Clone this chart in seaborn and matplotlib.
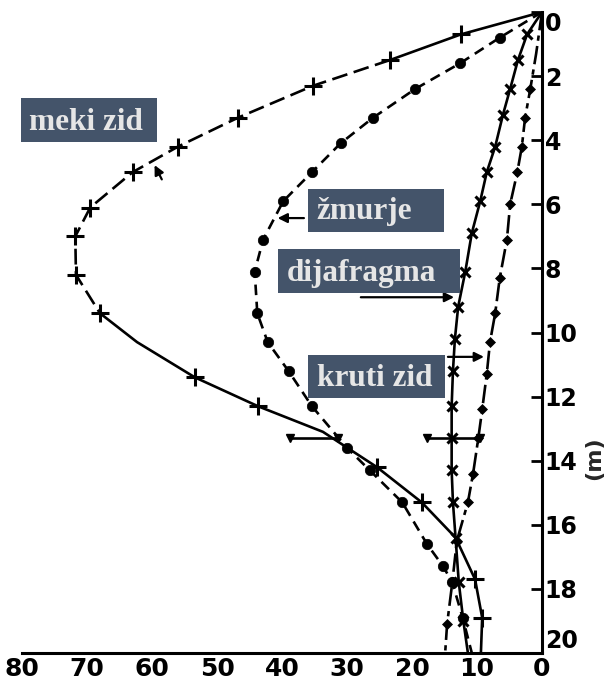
import numpy as np
import pandas as pd
import matplotlib
matplotlib.use("Agg")
import matplotlib.pyplot as plt
from matplotlib.patches import Rectangle
import seaborn as sns

# -------------------- DATA --------------------
meki_x = [0, 12.5, 23.4, 35.2, 46.8, 56.0, 63.0, 69.5, 71.8, 71.7, 68.0, 62.3, 53.4, 43.7, 33.7, 25.4, 18.5, 13.3, 10.3, 9.2, 9.4]
meki_y = [0, 0.7, 1.5, 2.3, 3.3, 4.2, 5.0, 6.1, 7.0, 8.2, 9.4, 10.3, 11.4, 12.3, 13.1, 14.2, 15.3, 16.4, 17.7, 18.9, 20]
meki_mark = [False, True, True, True, True, True, True, True, True, True, True, False, True, True, False, True, True, False, True, True, False]

zmurje_x = [0, 6.5, 12.6, 19.5, 26.0, 31.0, 35.4, 39.8, 42.9, 44.2, 43.8, 42.2, 39.0, 35.4, 30.0, 26.5, 21.5, 17.7, 15.2, 13.8, 12.2, 10.8]
zmurje_y = [0, 0.8, 1.6, 2.4, 3.3, 4.1, 5.0, 5.9, 7.1, 8.1, 9.4, 10.3, 11.2, 12.3, 13.6, 14.3, 15.3, 16.6, 17.3, 17.8, 18.9, 20]

dijaf_x = [0, 2.3, 3.7, 4.9, 6.0, 7.2, 8.5, 9.5, 10.8, 11.8, 12.9, 13.4, 13.7, 13.9, 13.9, 13.9, 13.7, 13.3, 12.8, 12.1, 11.4]
dijaf_y = [0, 0.7, 1.5, 2.4, 3.2, 4.2, 5.0, 5.9, 6.9, 8.1, 9.2, 10.2, 11.2, 12.3, 13.3, 14.3, 15.3, 16.4, 17.8, 19.0, 20]

kruti_x = [0, 0.9, 1.8, 2.6, 3.1, 3.8, 4.9, 5.4, 6.5, 7.2, 8.0, 8.5, 9.2, 9.8, 10.6, 11.4, 13.1, 13.8, 14.6, 14.9]
kruti_y = [0, 1.3, 2.4, 3.3, 4.2, 5.0, 6.0, 7.1, 8.3, 9.4, 10.3, 11.3, 12.4, 13.3, 14.4, 15.3, 16.5, 17.8, 19.1, 20]

# horizontal marks at 13.3 m
bar_y = 13.3
bar_left = [38.8, 31.4]
bar_right = [17.7, 9.5]

x_ticks = [80, 70, 60, 50, 40, 30, 20, 10, 0]
y_ticks = [0, 2, 4, 6, 8, 10, 12, 14, 16, 18, 20]

sns.set_theme(style="white")
plt.rcParams["font.family"] = ["Liberation Sans Narrow", "DejaVu Sans"]

W, H = 605, 689
fig = plt.figure(figsize=(W / 100, H / 100), dpi=100)
ax = fig.add_axes([22 / W, 1 - 653 / H, 520 / W, 641 / H])

LW = 1.9

def draw(x, y, **kw):
    df = pd.DataFrame({"x": x, "y": y})
    sns.lineplot(data=df, x="x", y="y", sort=False, estimator=None,
                 color="black", lw=LW, ax=ax, mec="black", mfc="black", **kw)

# meki zid: solid at top, long dashes in middle, solid at bottom
draw(meki_x[:3], meki_y[:3])
draw(meki_x[2:11], meki_y[2:11], linestyle=(0, (6, 2.5)))
draw(meki_x[10:], meki_y[10:])
ax.plot(np.array(meki_x)[meki_mark], np.array(meki_y)[meki_mark], ls="none",
        marker="+", ms=13, mew=2.2, color="black")

# zmurje: dashed with dots
draw(zmurje_x, zmurje_y, linestyle=(0, (4, 2.5)), marker="o", ms=7.5, mew=0.5,
     markevery=list(range(1, len(zmurje_x) - 1)))

# dijafragma: solid with x markers
draw(dijaf_x, dijaf_y, marker="x", ms=7, mew=2.2,
     markevery=list(range(1, len(dijaf_x) - 1)))

# kruti zid: dash-dot with dots
draw(kruti_x, kruti_y, linestyle=(0, (7, 2, 2, 2)), marker="D", ms=5.5, mew=0.5,
     markevery=list(range(2, len(kruti_x) - 1)))

# horizontal marks
for seg in (bar_left, bar_right):
    ax.plot(seg, [bar_y, bar_y], color="black", lw=LW)
    ax.plot(seg, [bar_y, bar_y], ls="none", marker="v", ms=6, color="black")

# arrows
arrow = dict(arrowstyle="-|>", color="black", lw=1.6, mutation_scale=14)
ax.annotate("", xy=(59.8, 4.7), xytext=(58.3, 5.3), arrowprops=arrow)
ax.annotate("", xy=(41.1, 6.43), xytext=(36.2, 6.43), arrowprops=arrow)
ax.annotate("", xy=(13.1, 8.9), xytext=(28.3, 8.9), arrowprops=arrow)
ax.annotate("", xy=(8.5, 10.76), xytext=(14.9, 10.76), arrowprops=arrow)

# axes styling
ax.set_xlim(80, 0)
ax.set_ylim(20, 0)
ax.set_xticks(x_ticks)
ax.set_yticks(y_ticks)
ax.yaxis.tick_right()
for s in ("top", "left"):
    ax.spines[s].set_visible(False)
for s in ("right", "bottom"):
    ax.spines[s].set_linewidth(2.2)
    ax.spines[s].set_color("black")
ax.tick_params(axis="x", direction="in", length=6, width=2, pad=3,
               labelsize=18, colors="black")
ax.tick_params(axis="y", direction="in", length=8, width=2, pad=2,
               labelsize=17, colors="black")
for lab in ax.get_xticklabels() + ax.get_yticklabels():
    lab.set_fontweight("bold")
# bottom y label sits a little above its tick, clear of the x label "0"
ax.get_yticklabels()[-1].set_va("bottom")
ax.get_yticklabels()[0].set_va("top")
ax.set_xlabel("")
ax.set_ylabel("")
ax.grid(False)
ax.set_facecolor("white")
fig.text(594 / W, 1 - 458 / H, "(m)", rotation=90, ha="center", va="center",
         fontsize=16, fontweight="bold")

# label boxes (pixel layout)
boxes = [("meki zid", 21, 98, 157, 142, 29),
         ("žmurje", 308, 189, 444, 232, 316),
         ("dijafragma", 278, 249, 460, 293, 287),
         ("kruti zid", 308, 355, 445, 398, 317)]
for txt, x0, y0, x1, y1, tx in boxes:
    fig.patches.append(Rectangle((x0 / W, 1 - y1 / H), (x1 - x0) / W, (y1 - y0) / H,
                                 transform=fig.transFigure, facecolor="#44546A",
                                 edgecolor="none", zorder=5))
    fig.text(tx / W, 1 - (y1 - 12.5) / H, txt, ha="left", va="baseline",
             fontsize=22.5, fontweight="bold", color="#E6E6E6",
             family=["Liberation Serif", "DejaVu Serif"], zorder=6)

fig.savefig("out.png", dpi=100, facecolor="white")
